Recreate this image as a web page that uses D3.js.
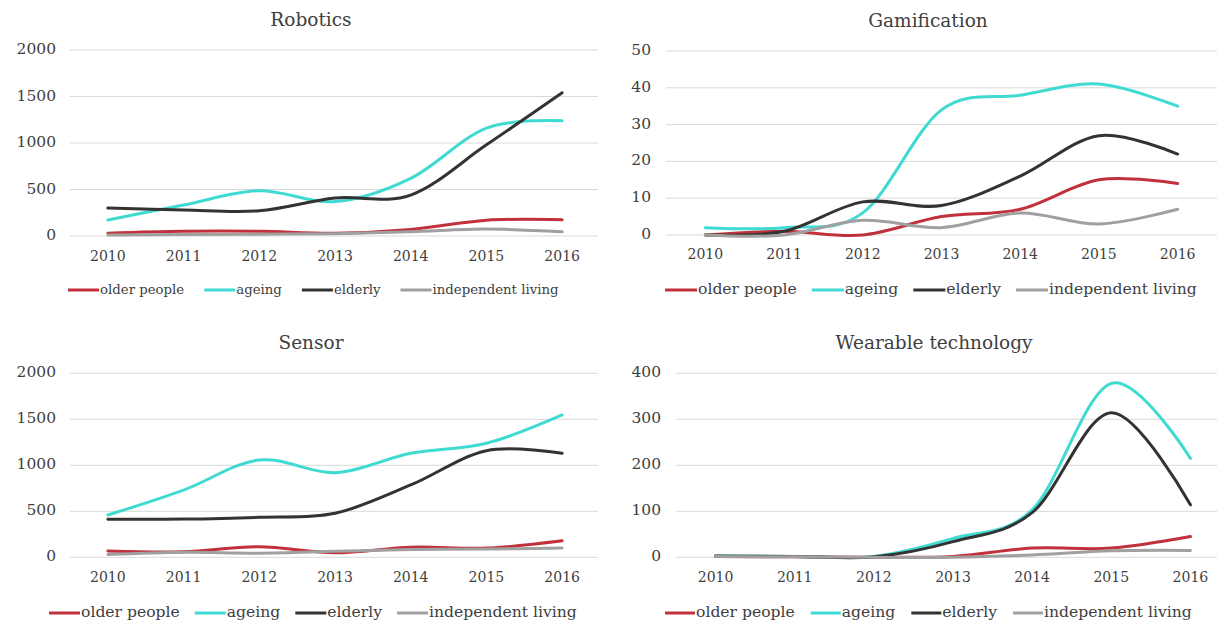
<!DOCTYPE html>
<html><head><meta charset="utf-8">
<script src="https://cdnjs.cloudflare.com/ajax/libs/d3/7.8.5/d3.min.js"></script>
<style>
html,body{margin:0;padding:0;background:#fff;}
svg{display:block;}
text{font-family:"DejaVu Serif",serif;fill:#404040;}
</style></head>
<body>
<svg id="chart" width="1217" height="630"></svg>
<script>
const years = ["2010","2011","2012","2013","2014","2015","2016"];
const seriesNames = ["older people","ageing","elderly","independent living"];
const seriesColors = ["#c1313c","#3fdad1","#333333","#a0a0a0"];

const roboticsTicks = [0,500,1000,1500,2000];
const roboticsOlder = [30,50,50,30,70,170,175];
const roboticsAgeing = [172,333,487,370,620,1160,1240];
const roboticsElderly = [300,280,272,408,440,980,1540];
const roboticsIndep = [10,15,20,25,45,75,45];

const gamificationTicks = [0,10,20,30,40,50];
const gamificationOlder = [0,1,0,5,7,15,14];
const gamificationAgeing = [2,2,6,34,38,41,35];
const gamificationElderly = [0,1,9,8,16,27,22];
const gamificationIndep = [0,0,4,2,6,3,7];

const sensorTicks = [0,500,1000,1500,2000];
const sensorOlder = [68,60,115,50,110,100,180];
const sensorAgeing = [460,731,1058,920,1130,1239,1547];
const sensorElderly = [413,415,435,478,786,1159,1130];
const sensorIndep = [30,55,45,65,85,90,100];

const wearableTicks = [0,100,200,300,400];
const wearableOlder = [2,1,0,2,20,20,45];
const wearableAgeing = [3,2,2,41,103,378,215];
const wearableElderly = [3,2,1,34,97,314,114];
const wearableIndep = [2,1,0,0,5,14,15];

const panels = [
  {title:"Robotics", ticks:roboticsTicks, series:[roboticsOlder,roboticsAgeing,roboticsElderly,roboticsIndep],
   x0:70, x1:600, gx1:598, y0:236, y1:50, titleX:311, titleY:26, tickLabelRight:56, yTickSize:15.5,
   xLabY:257, legY:290, legX:68, legFont:13.3, legGap:20, legLine:31},
  {title:"Gamification", ticks:gamificationTicks, series:[gamificationOlder,gamificationAgeing,gamificationElderly,gamificationIndep],
   x0:666, x1:1217, gx1:1217, y0:235, y1:51, titleX:928, titleY:27, tickLabelRight:651, yTickSize:15.5,
   xLabY:255, legY:290, legX:665, legFont:15.6, legGap:15, legLine:32},
  {title:"Sensor", ticks:sensorTicks, series:[sensorOlder,sensorAgeing,sensorElderly,sensorIndep],
   x0:70, x1:600, gx1:598, y0:557.3, y1:373.3, titleX:311, titleY:349, tickLabelRight:56, yTickSize:15.5,
   xLabY:578, legY:613, legX:49, legFont:15.6, legGap:15, legLine:31},
  {title:"Wearable technology", ticks:wearableTicks, series:[wearableOlder,wearableAgeing,wearableElderly,wearableIndep],
   x0:676, x1:1230, gx1:1217, y0:557.3, y1:373.3, titleX:934, titleY:349, tickLabelRight:661, yTickSize:15.5,
   xLabY:578, legY:613, legX:665, legFont:15.6, legGap:16, legLine:30}
];

const svg = d3.select("#chart");

panels.forEach(p => {
  const g = svg.append("g");
  const x = d3.scaleBand().domain(years).range([p.x0, p.x1]);
  const y = d3.scaleLinear().domain([0, d3.max(p.ticks)]).range([p.y0, p.y1]);

  // gridlines
  g.selectAll(".grid").data(p.ticks).enter().append("line")
    .attr("x1", p.x0).attr("x2", p.gx1)
    .attr("y1", d => y(d)).attr("y2", d => y(d))
    .attr("stroke", "#d9d9d9").attr("stroke-width", 1);

  // y tick labels
  g.selectAll(".ylab").data(p.ticks).enter().append("text")
    .attr("x", p.tickLabelRight).attr("y", d => y(d))
    .attr("text-anchor", "end").attr("dominant-baseline", "middle")
    .style("font-size", p.yTickSize + "px")
    .text(d => d);

  // x tick labels
  g.selectAll(".xlab").data(years).enter().append("text")
    .attr("x", d => x(d) + x.bandwidth()/2).attr("y", p.xLabY)
    .attr("text-anchor", "middle").attr("dominant-baseline", "middle")
    .style("font-size", "14px")
    .text(d => d);

  // title
  g.append("text").attr("x", p.titleX).attr("y", p.titleY)
    .attr("text-anchor", "middle").style("font-size", "18.5px")
    .text(p.title);

  // lines
  const line = d3.line()
    .x((d, i) => x(years[i]) + x.bandwidth()/2)
    .y(d => y(d))
    .curve(d3.curveCardinal.tension(0));
  p.series.forEach((s, si) => {
    g.append("path").datum(s)
      .attr("d", line)
      .attr("fill", "none")
      .attr("stroke", seriesColors[si])
      .attr("stroke-width", 3)
      .attr("stroke-linecap", "round");
  });

  // legend
  let cx = p.legX;
  seriesNames.forEach((n, si) => {
    g.append("line").attr("x1", cx).attr("x2", cx + p.legLine)
      .attr("y1", p.legY).attr("y2", p.legY)
      .attr("stroke", seriesColors[si]).attr("stroke-width", 3);
    const t = g.append("text").attr("x", cx + p.legLine + 1).attr("y", p.legY)
      .attr("dominant-baseline", "middle")
      .style("font-size", p.legFont + "px")
      .text(n);
    cx += p.legLine + 1 + t.node().getComputedTextLength() + p.legGap;
  });
});
</script>
</body></html>
